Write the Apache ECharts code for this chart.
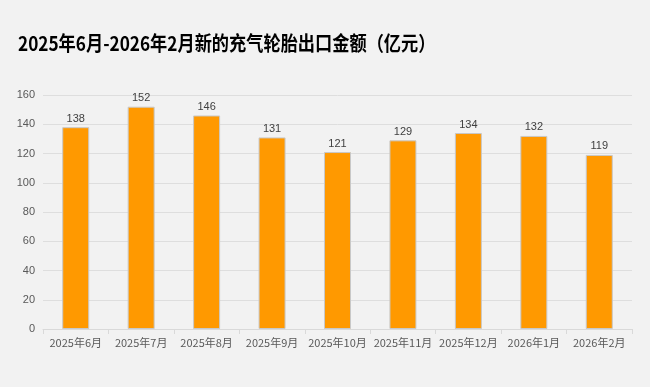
<!DOCTYPE html>
<html><head><meta charset="utf-8">
<script src="https://cdn.jsdelivr.net/npm/echarts@6/dist/echarts.min.js"></script>
<style>html,body{margin:0;padding:0;background:#f2f2f2}#c{width:650px;height:387px}</style>
</head><body><div id="c"></div>
<script>
const titleText = '2025年6月-2026年2月新的充气轮胎出口金额（亿元）';
const categories = ['2025年6月','2025年7月','2025年8月','2025年9月','2025年10月','2025年11月','2025年12月','2026年1月','2026年2月'];
const values = [138,152,146,131,121,129,134,132,119];
const chart = echarts.init(document.getElementById('c'));
chart.setOption({
  backgroundColor:'#f2f2f2',
  animation:false,
  graphic:[{type:'text',left:18,top:33,scaleX:0.86,
    style:{text:titleText,font:'bold 20px "Noto Sans CJK SC"',fill:'#000'}}],
  grid:{left:43,right:18,top:95,bottom:58},
  xAxis:{type:'category',data:categories,
    axisLine:{lineStyle:{color:'#d9d9d9'}},
    axisTick:{show:true,lineStyle:{color:'#d9d9d9'}},
    axisLabel:{interval:0,color:'#595959',fontSize:11,fontFamily:'Noto Sans CJK SC',margin:8}},
  yAxis:{type:'value',min:0,max:160,interval:20,
    axisLine:{show:false},axisTick:{show:false},
    splitLine:{lineStyle:{color:'#dedede'}},
    axisLabel:{color:'#595959',fontSize:11,fontFamily:'Arial',margin:8}},
  series:[{type:'bar',data:values,barWidth:27,
    itemStyle:{color:'#ff9900',borderColor:'#c8c8c8',borderWidth:1},
    label:{show:true,position:'top',color:'#404040',fontSize:11,fontFamily:'Arial',distance:3}}]
});
</script></body></html>
